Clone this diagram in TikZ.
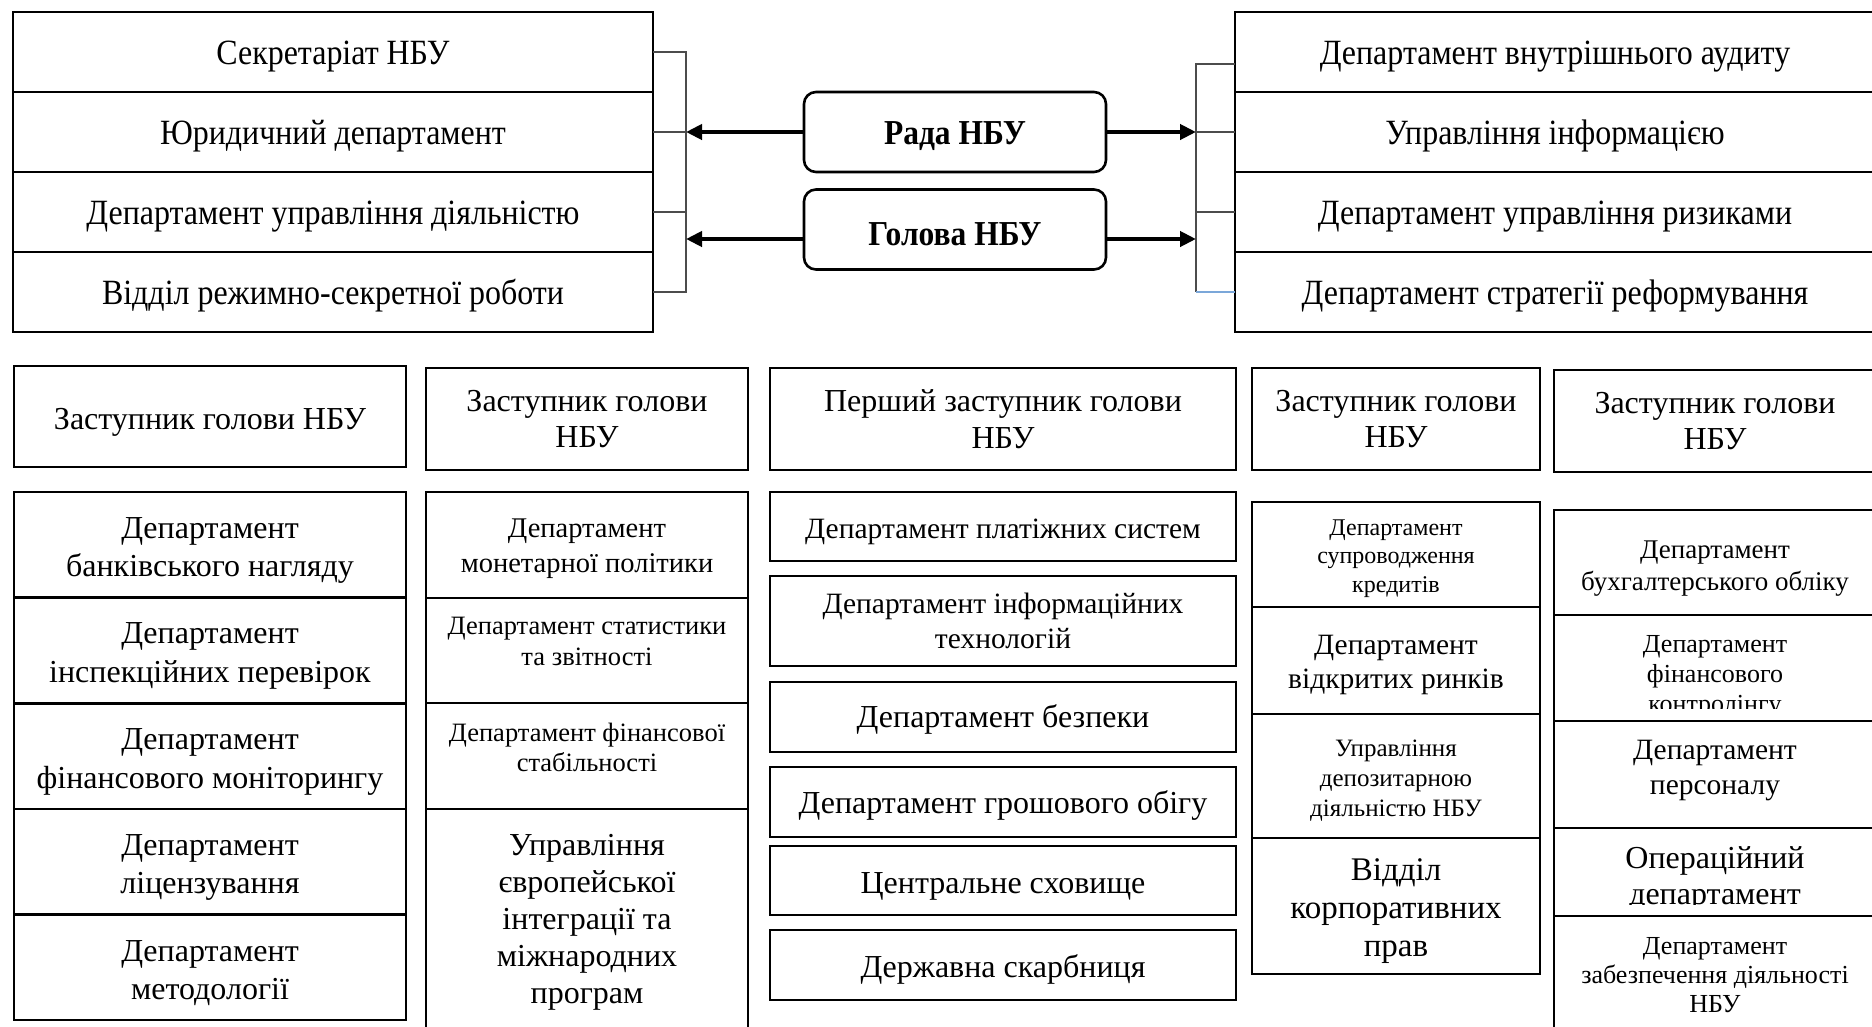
\documentclass[tikz,border=0pt]{standalone}
\usepackage{fontspec}
\setmainfont{Liberation Serif}
\newfontfamily\narrowserif[FakeStretch=0.9]{Liberation Serif}
\usetikzlibrary{arrows.meta}

\newcommand{\fsz}[2]{\fontsize{#1}{#2}\selectfont}
\definecolor{stub}{HTML}{7BA7D9}

\tikzset{
  unit/.style={draw, line width=2.6pt, inner sep=0pt, outer sep=0pt, align=center, anchor=north west, fill=white},
  sink/.style 2 args={execute at begin node={\rule{0pt}{\dimexpr0.7em+#1\baselineskip+#2\relax}}},
  lift/.style={execute at end node={\rule[-#1]{0pt}{0pt}}},
  toprow/.style={unit, sink={0}{8pt}, minimum width=640pt, minimum height=80pt, font=\narrowserif\fsz{35.5}{40}},
  board/.style={draw, line width=2.6pt, rounded corners=12pt, align=center, sink={0}{7pt}, minimum width=302pt, minimum height=80pt, font=\narrowserif\bfseries\fsz{35}{40}},
  head/.style={unit, minimum height=102pt, font=\fsz{32}{36.5}},
  link/.style={line width=1.3pt, draw=black!70},
  arr/.style={line width=4.5pt, -{Triangle[length=16pt,width=15pt]}},
}

\begin{document}
\begin{tikzpicture}[x=1pt,y=-1pt]
  \path[use as bounding box, fill=white] (0,0) rectangle (1872,1026);
  \clip (0,0) rectangle (1872,1026);

  % top: council, governor and the units under them
  \node[toprow] (sekr) at (13,12) {Секретаріат НБУ};
  \node[toprow] (yur) at (13,92) {Юридичний департамент};
  \node[toprow] (dial) at (13,172) {Департамент управління діяльністю};
  \node[toprow] (rezh) at (13,252) {Відділ режимно-секретної роботи};

  \node[toprow] (audyt) at (1235,12) {Департамент внутрішнього аудиту};
  \node[toprow] (info) at (1235,92) {Управління інформацією};
  \node[toprow] (ryzyk) at (1235,172) {Департамент управління ризиками};
  \node[toprow] (strat) at (1235,252) {Департамент стратегії реформування};

  \node[board] (rada) at (955,132) {Рада НБУ};
  \node[board] (holova) at (955,229.5) {Голова НБУ};

  \coordinate (lt) at (686,52);
  \coordinate (lb) at (686,292);
  \coordinate (hl) at (686,239);
  \draw[link] (sekr.east) -- (lt) -- (lb) -- (rezh.east);
  \draw[link] (yur.east) -- (yur.east -| lt);
  \draw[link] (dial.east) -- (dial.east -| lt);
  \draw[arr] (rada.west) -- (rada.west -| lt);
  \draw[arr] (hl -| holova.west) -- (hl);

  \coordinate (rt) at (1196,64);
  \coordinate (rb) at (1196,292);
  \coordinate (hr) at (1196,239);
  \draw[link] (rt -| audyt.west) -- (rt) -- (rb);
  \draw[link] (info.west) -- (info.west -| rt);
  \draw[link] (ryzyk.west) -- (ryzyk.west -| rt);
  \draw[link, draw=stub] (rb) -- (strat.west);
  \draw[arr] (rada.east) -- (rada.east -| rt);
  \draw[arr] (hr -| holova.east) -- (hr);

  % deputies
  \node[head, sink={0}{10pt}, minimum width=392pt, minimum height=101pt] (zamA) at (14,366) {Заступник голови НБУ};
  \node[head, minimum width=322pt] (zamB) at (426,368) {Заступник голови\\НБУ};
  \node[head, minimum width=466pt] (pershyi) at (770,368) {Перший заступник голови\\НБУ};
  \node[head, minimum width=288pt] (zamD) at (1252,368) {Заступник голови\\НБУ};
  \node[head, minimum width=322pt] (zamE) at (1554,370) {Заступник голови\\НБУ};

  % column A
  \node[unit, sink={1}{10pt}, minimum width=392pt, minimum height=105.6pt, font=\fsz{32}{38.5}] (nagl) at (14,492) {Департамент\\банківського нагляду};
  \node[unit, sink={1}{10pt}, minimum width=392pt, minimum height=105.6pt, font=\fsz{32}{38.5}] (insp) at (14,597.6) {Департамент\\інспекційних перевірок};
  \node[unit, sink={1}{10pt}, minimum width=392pt, minimum height=105.6pt, font=\fsz{32}{38.5}] (monit) at (14,703.2) {Департамент\\фінансового моніторингу};
  \node[unit, sink={1}{10pt}, minimum width=392pt, minimum height=105.6pt, font=\fsz{32}{38.5}] (lic) at (14,808.8) {Департамент\\ліцензування};
  \node[unit, sink={1}{10pt}, minimum width=392pt, minimum height=105.6pt, font=\fsz{32}{38.5}] (metod) at (14,914.4) {Департамент\\методології};

  % column B
  \node[unit, sink={1}{6pt}, minimum width=322pt, minimum height=106pt, font=\fsz{28.5}{34.5}] (monet) at (426,492) {Департамент\\монетарної політики};
  \node[unit, lift=19pt, minimum width=322pt, minimum height=105pt, font=\fsz{26.5}{31}] (stat) at (426,598) {Департамент статистики\\та звітності};
  \node[unit, lift=18pt, minimum width=322pt, minimum height=106pt, font=\fsz{26.5}{30}] (stab) at (426,703) {Департамент фінансової\\стабільності};
  \node[unit, minimum width=322pt, minimum height=226pt, font=\fsz{32}{37}] (euro) at (426,809) {Управління\\європейської\\інтеграції та\\міжнародних\\програм};

  % column C
  \node[unit, sink={0}{10pt}, minimum width=466pt, minimum height=69pt, font=\fsz{29.5}{34}] (plat) at (770,492) {Департамент платіжних систем};
  \node[unit, minimum width=466pt, minimum height=90pt, font=\fsz{29.5}{34.5}] (it) at (770,576) {Департамент інформаційних\\технологій};
  \node[unit, sink={0}{5pt}, minimum width=466pt, minimum height=70pt, font=\fsz{32}{36.5}] (bezp) at (770,682) {Департамент безпеки};
  \node[unit, sink={0}{7pt}, minimum width=466pt, minimum height=70pt, font=\fsz{32}{36.5}] (obig) at (770,767) {Департамент грошового обігу};
  \node[unit, sink={0}{10pt}, minimum width=466pt, minimum height=69pt, font=\fsz{32}{36.5}] (skhov) at (770,846) {Центральне сховище};
  \node[unit, sink={0}{10pt}, minimum width=466pt, minimum height=70pt, font=\fsz{32}{36.5}] (skarb) at (770,930) {Державна скарбниця};

  % column D
  \node[unit, sink={2}{7pt}, minimum width=288pt, minimum height=105pt, font=\fsz{24}{28.5}] (kred) at (1252,502) {Департамент\\супроводження\\кредитів};
  \node[unit, sink={1}{8pt}, minimum width=288pt, minimum height=107pt, font=\fsz{29.5}{34.5}] (rynky) at (1252,607) {Департамент\\відкритих ринків};
  \node[unit, sink={2}{8pt}, minimum width=288pt, minimum height=124pt, font=\fsz{25}{30}] (depoz) at (1252,714) {Управління\\депозитарною\\діяльністю НБУ};
  \node[unit, sink={2}{8pt}, minimum width=288pt, minimum height=136pt, font=\fsz{33}{38}] (korp) at (1252,838) {Відділ\\корпоративних\\прав};

  % column E
  \node[unit, sink={1}{10pt}, minimum width=322pt, minimum height=105pt, font=\fsz{27}{32}] (bukh) at (1554,510) {Департамент\\бухгалтерського обліку};
  \node[unit, minimum width=322pt, minimum height=106pt] (kontr) at (1554,615) {};
  \begin{scope}
    \clip (1554,615) rectangle (1876,708);
    \node[align=center, font=\fsz{26}{30}] (kontrtxt) at (1715,677) {Департамент\\фінансового\\контролінгу};
  \end{scope}
  \node[unit, lift=14.5pt, minimum width=322pt, minimum height=107pt, font=\fsz{29.5}{34.5}] (pers) at (1554,721) {Департамент\\персоналу};
  \node[unit, minimum width=322pt, minimum height=88pt] (oper) at (1554,828) {};
  \begin{scope}
    \clip (1554,828) rectangle (1876,904);
    \node[align=center, font=\fsz{32}{36.5}] (opertxt) at (1715,879) {Операційний\\департамент};
  \end{scope}
  \node[unit, minimum width=322pt, minimum height=119pt, font=\fsz{26}{29}] (zabezp) at (1554,916) {Департамент\\забезпечення діяльності\\НБУ};

\end{tikzpicture}
\end{document}
